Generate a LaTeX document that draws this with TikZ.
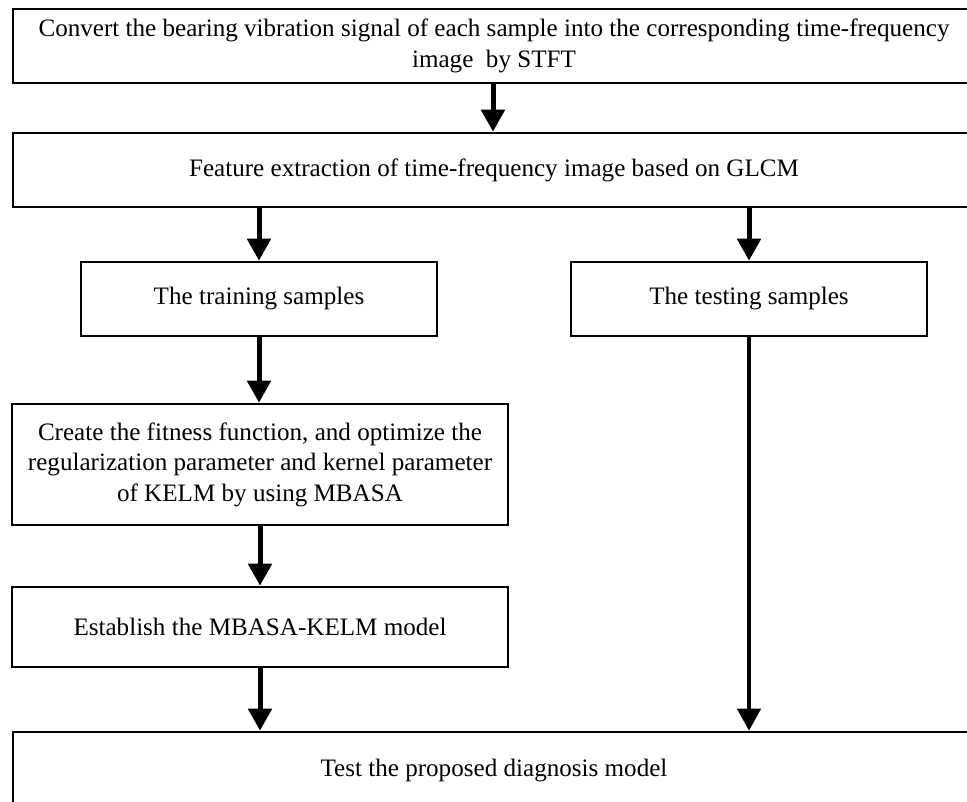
\documentclass[tikz,border=0pt]{standalone}
\usepackage{fontspec}
\setmainfont{Liberation Serif}
\usetikzlibrary{arrows.meta}
\begin{document}
\begin{tikzpicture}[x=1pt,y=-1pt,
  box/.style={draw,line width=2.6pt,rectangle,inner sep=0pt,align=center,
    font=\fontsize{25.1}{30.5}\selectfont},
  flow/.style={line width=5pt,-{Triangle[length=22pt,width=23pt]}}]
\useasboundingbox (0,0) rectangle (967,802);
\node[box,minimum width=962pt,minimum height=74pt] (b1) at (494,46)
  {Convert the bearing vibration signal of each sample into the corresponding time-frequency\\image\ \ by STFT};
\node[box,minimum width=962pt,minimum height=74pt] (b2) at (494,170)
  {Feature extraction of time-frequency image based on GLCM};
\node[box,minimum width=356pt,minimum height=74pt] (train) at (259,299)
  {The training samples};
\node[box,minimum width=356pt,minimum height=74pt] (test) at (749,299)
  {The testing samples};
\node[box,minimum width=496pt,minimum height=121pt] (fit) at (260,464.5)
  {Create the fitness function, and optimize the\\regularization parameter and kernel parameter\\of KELM by using MBASA};
\node[box,minimum width=496pt,minimum height=80pt] (est) at (260,627)
  {Establish the MBASA-KELM model};
\node[box,minimum width=962pt,minimum height=76pt] (fin) at (494,770)
  {Test the proposed diagnosis model};
\draw[flow] (b1.south -| 493,0) -- (b2.north -| 493,0);
\draw[flow] (b2.south -| train.north) -- (train.north);
\draw[flow] (b2.south -| test.north) -- (test.north);
\draw[flow] (train.south) -- (train.south |- fit.north);
\draw[flow] (fit.south) -- (est.north);
\draw[flow] (est.south) -- (est.south |- fin.north);
\draw[flow,line width=4.5pt] (test.south) -- (test.south |- fin.north);
\end{tikzpicture}
\end{document}
